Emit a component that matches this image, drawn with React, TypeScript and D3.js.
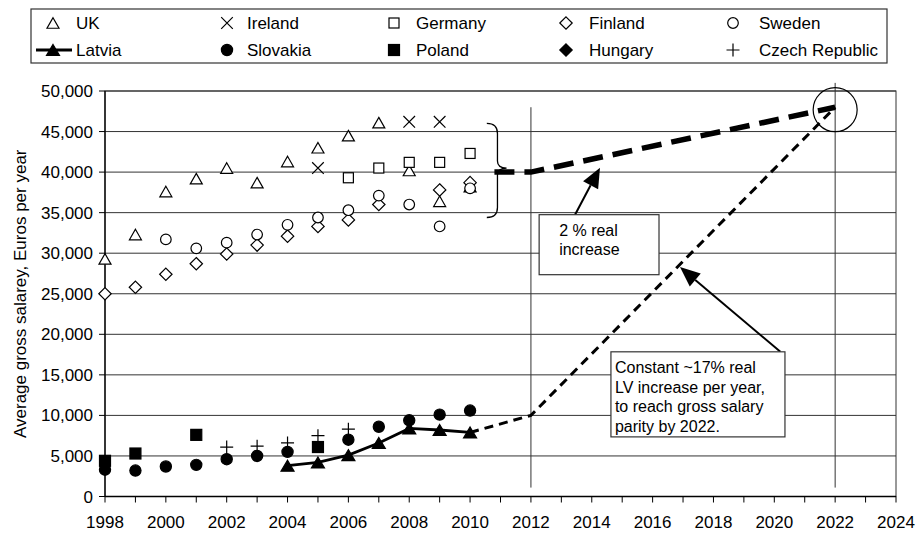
import React, { useEffect, useRef } from 'react';
import * as d3 from 'd3';

// Survey years and gross salary values (EUR per year), null = no data
const years = [1998, 1999, 2000, 2001, 2002, 2003, 2004, 2005, 2006, 2007, 2008, 2009, 2010];
const uk = [29300, 32300, 37600, 39200, 40500, 38700, 41300, 43000, 44500, 46100, 40200, 36400, 38200];
const ireland = [null, null, null, null, null, null, null, 40500, null, null, 46200, 46200, null];
const germany = [null, null, null, null, null, null, null, null, 39300, 40500, 41200, 41200, 42300];
const finland = [25000, 25800, 27400, 28700, 29900, 31000, 32100, 33300, 34100, 36000, null, 37800, 38700];
const sweden = [null, null, 31700, 30600, 31300, 32300, 33500, 34400, 35300, 37100, 36000, 33300, 38000];
const latvia = [null, null, null, null, null, null, 3800, 4200, 5100, 6600, 8400, 8200, 7900];
const slovakia = [3300, 3200, 3700, 3900, 4600, 5000, 5500, null, 7000, 8600, 9400, 10100, 10600];
const poland = [4400, 5300, null, 7600, null, null, null, 6100, null, null, null, null, null];
const hungary: (number | null)[] = [null, null, null, null, null, null, null, null, null, null, null, null, null];
const czech = [null, null, null, null, 6100, 6200, 6600, 7500, 8300, null, null, null, null];

// Projections
const latviaProjYears = [2010, 2012, 2022];
const latviaProjValues = [7900, 10000, 48000];
const trendYears = [2010.8, 2012, 2022];
const trendValues = [40000, 40000, 48000];
const markerYears = [2012, 2022];

const yTicks = [0, 5000, 10000, 15000, 20000, 25000, 30000, 35000, 40000, 45000, 50000];
const xTicks = d3.range(1998, 2025, 1);
const xLabels = [1998, 2000, 2002, 2004, 2006, 2008, 2010, 2012, 2014, 2016, 2018, 2020, 2022, 2024];

type Shape = 'tri' | 'x' | 'sq' | 'dia' | 'circ' | 'triF' | 'dot' | 'sqF' | 'diaF' | 'plus';

const series: { name: string; values: (number | null)[]; shape: Shape }[] = [
  { name: 'UK', values: uk, shape: 'tri' },
  { name: 'Ireland', values: ireland, shape: 'x' },
  { name: 'Germany', values: germany, shape: 'sq' },
  { name: 'Finland', values: finland, shape: 'dia' },
  { name: 'Sweden', values: sweden, shape: 'circ' },
  { name: 'Latvia', values: latvia, shape: 'triF' },
  { name: 'Slovakia', values: slovakia, shape: 'dot' },
  { name: 'Poland', values: poland, shape: 'sqF' },
  { name: 'Hungary', values: hungary, shape: 'diaF' },
  { name: 'Czech Republic', values: czech, shape: 'plus' },
];

const FONT = '"Liberation Sans", Arial, sans-serif';

function marker(g: d3.Selection<SVGGElement, unknown, null, undefined>, shape: Shape, cx: number, cy: number) {
  const sw = 1.2;
  switch (shape) {
    case 'tri':
    case 'triF': {
      const w = shape === 'tri' ? 12 : 13, h = shape === 'tri' ? 10.5 : 11;
      g.append('path')
        .attr('d', `M${cx},${cy - h / 2}L${cx + w / 2},${cy + h / 2}L${cx - w / 2},${cy + h / 2}Z`)
        .attr('fill', shape === 'tri' ? 'white' : 'black')
        .attr('stroke', 'black').attr('stroke-width', sw);
      break;
    }
    case 'sq':
    case 'sqF': {
      const s = shape === 'sq' ? 10 : 11;
      g.append('rect').attr('x', cx - s / 2).attr('y', cy - s / 2).attr('width', s).attr('height', s)
        .attr('fill', shape === 'sq' ? 'white' : 'black')
        .attr('stroke', 'black').attr('stroke-width', sw);
      break;
    }
    case 'dia':
    case 'diaF': {
      const r = 6.2;
      g.append('path')
        .attr('d', `M${cx},${cy - r}L${cx + r},${cy}L${cx},${cy + r}L${cx - r},${cy}Z`)
        .attr('fill', shape === 'dia' ? 'white' : 'black')
        .attr('stroke', 'black').attr('stroke-width', sw);
      break;
    }
    case 'circ':
    case 'dot':
      g.append('circle').attr('cx', cx).attr('cy', cy).attr('r', shape === 'circ' ? 5.3 : 5.6)
        .attr('fill', shape === 'circ' ? 'white' : 'black')
        .attr('stroke', 'black').attr('stroke-width', sw);
      break;
    case 'x': {
      const r = 5.8;
      g.append('path')
        .attr('d', `M${cx - r},${cy - r}L${cx + r},${cy + r}M${cx - r},${cy + r}L${cx + r},${cy - r}`)
        .attr('stroke', 'black').attr('stroke-width', sw).attr('fill', 'none');
      break;
    }
    case 'plus': {
      const r = 6.5;
      g.append('path')
        .attr('d', `M${cx - r},${cy}L${cx + r},${cy}M${cx},${cy - r}L${cx},${cy + r}`)
        .attr('stroke', 'black').attr('stroke-width', sw).attr('fill', 'none');
      break;
    }
  }
}

export default function App() {
  const svgRef = useRef<SVGSVGElement>(null);

  useEffect(() => {
    if (!svgRef.current) return;
    d3.select(svgRef.current).selectAll('*').remove();

    const width = 917;
    const height = 534;
    const left = 105, right = 896, top = 91, bottom = 496.5;

    const svg = d3.select(svgRef.current).attr('width', width).attr('height', height);
    const g = svg.append('g');

    const x = d3.scaleLinear().domain([1998, 2024]).range([left, right]);
    const y = d3.scaleLinear().domain([0, 50000]).range([bottom, top]);

    // gridlines
    g.selectAll('line.grid').data(yTicks.slice(1)).enter().append('line')
      .attr('x1', left).attr('x2', right)
      .attr('y1', d => y(d)).attr('y2', d => y(d))
      .attr('stroke', '#333').attr('stroke-width', 1);

    // plot frame
    g.append('rect').attr('x', left).attr('y', top).attr('width', right - left).attr('height', bottom - top)
      .attr('fill', 'none').attr('stroke', '#333').attr('stroke-width', 1);

    // y axis
    g.append('line').attr('x1', left).attr('x2', left).attr('y1', top).attr('y2', bottom)
      .attr('stroke', 'black').attr('stroke-width', 1.3);
    g.selectAll('line.yt').data(yTicks).enter().append('line')
      .attr('x1', left - 6).attr('x2', left).attr('y1', d => y(d)).attr('y2', d => y(d))
      .attr('stroke', 'black');
    g.selectAll('text.yl').data(yTicks).enter().append('text')
      .attr('x', left - 12).attr('y', d => y(d) + 6)
      .attr('text-anchor', 'end')
      .style('font-family', FONT).style('font-size', '17px')
      .text(d => d3.format(',')(d));

    // x axis
    g.append('line').attr('x1', left).attr('x2', right).attr('y1', bottom).attr('y2', bottom)
      .attr('stroke', 'black').attr('stroke-width', 1.3);
    g.selectAll('line.xt').data(xTicks).enter().append('line')
      .attr('x1', d => x(d)).attr('x2', d => x(d)).attr('y1', bottom).attr('y2', bottom + 6)
      .attr('stroke', 'black');
    g.selectAll('text.xl').data(xLabels).enter().append('text')
      .attr('x', d => x(d)).attr('y', bottom + 31)
      .attr('text-anchor', 'middle')
      .style('font-family', FONT).style('font-size', '17px')
      .text(d => String(d));

    // y axis title
    g.append('text')
      .attr('transform', `translate(${26}, ${(top + bottom) / 2}) rotate(-90)`)
      .attr('text-anchor', 'middle')
      .style('font-family', FONT).style('font-size', '17px')
      .text('Average gross salarey, Euros per year');

    // vertical reference lines
    g.append('line').attr('x1', x(markerYears[0])).attr('x2', x(markerYears[0]))
      .attr('y1', y(48000)).attr('y2', y(1100)).attr('stroke', '#333');
    g.append('line').attr('x1', x(markerYears[1])).attr('x2', x(markerYears[1]))
      .attr('y1', y(51000)).attr('y2', y(1100)).attr('stroke', '#333');

    const line = d3.line<[number, number]>().x(d => x(d[0])).y(d => y(d[1]));

    // projections
    g.append('path')
      .attr('d', line(trendYears.map((yr, i) => [yr, trendValues[i]])))
      .attr('fill', 'none').attr('stroke', 'black').attr('stroke-width', 5.5)
      .attr('stroke-dasharray', '20,10');
    g.append('path')
      .attr('d', line(latviaProjYears.map((yr, i) => [yr, latviaProjValues[i]])))
      .attr('fill', 'none').attr('stroke', 'black').attr('stroke-width', 3)
      .attr('stroke-dasharray', '9,6');

    // Latvia line
    const latPts = years.map((yr, i) => [yr, latvia[i]] as [number, number | null])
      .filter(d => d[1] !== null) as [number, number][];
    g.append('path').attr('d', line(latPts))
      .attr('fill', 'none').attr('stroke', 'black').attr('stroke-width', 2.8);

    // markers
    const mg = g.append('g');
    series.forEach(s => {
      s.values.forEach((v, i) => {
        if (v === null) return;
        marker(mg, s.shape, x(years[i]), y(v));
      });
    });

    // brace grouping old member states
    const bx0 = x(2010.55), bxs = x(2010.9), bxt = x(2011.2);
    const byT = y(46000), byM = y(40500), byB = y(34400);
    g.append('path')
      .attr('d', `M${bx0},${byT}Q${bxs},${byT} ${bxs},${byT + 10}L${bxs},${byM - 7}Q${bxs},${byM} ${bxt},${byM}` +
        `Q${bxs},${byM} ${bxs},${byM + 7}L${bxs},${byB - 10}Q${bxs},${byB} ${bx0},${byB}`)
      .attr('fill', 'none').attr('stroke', 'black').attr('stroke-width', 1.3);

    // parity circle
    g.append('circle').attr('cx', x(2022)).attr('cy', y(47700)).attr('r', 22)
      .attr('fill', 'none').attr('stroke', 'black').attr('stroke-width', 1.2);

    // arrows
    const arrow = (x1: number, y1: number, x2: number, y2: number) => {
      const dx = x2 - x1, dy = y2 - y1, len = Math.hypot(dx, dy);
      const ux = dx / len, uy = dy / len;
      const hl = 20, hw = 8.5;
      const bxp = x2 - ux * hl, byp = y2 - uy * hl;
      g.append('line').attr('x1', x1).attr('y1', y1).attr('x2', bxp).attr('y2', byp)
        .attr('stroke', 'black').attr('stroke-width', 2);
      g.append('path')
        .attr('d', `M${x2},${y2}L${bxp - uy * hw},${byp + ux * hw}L${bxp + uy * hw},${byp - ux * hw}Z`)
        .attr('fill', 'black');
    };
    arrow(x(2013.45), y(34750), x(2014.27), y(40550));
    arrow(x(2020.2), y(17840), x(2016.9), y(28300));

    // annotation boxes
    const box = (x0: number, x1: number, v0: number, v1: number, lines: string[], tx: number, lh: number) => {
      g.append('rect').attr('x', x(x0)).attr('y', y(v0)).attr('width', x(x1) - x(x0)).attr('height', y(v1) - y(v0))
        .attr('fill', 'white').attr('stroke', '#333').attr('stroke-width', 1.2);
      lines.forEach((t, i) => {
        g.append('text').attr('x', x(x0) + tx).attr('y', y(v0) + lh * (i + 1) + 2)
          .style('font-family', FONT).style('font-size', '16px').text(t);
      });
    };
    box(2012.27, 2016.21, 34750, 27350, ['2 % real', 'increase'], 20, 19);
    box(2014.63, 2020.35, 17840, 7350,
      ['Constant ~17% real', 'LV increase per year,', 'to reach gross salary', 'parity by 2022.'], 4, 19.5);

    // legend
    const lg = g.append('g');
    lg.append('rect').attr('x', 31).attr('y', 9).attr('width', 856).attr('height', 54)
      .attr('fill', 'white').attr('stroke', '#333').attr('stroke-width', 1.2);
    const colMarker = [53, 227, 394, 566, 733];
    const colText = [76, 247, 416, 589, 759];
    const rowY = [23, 50];
    series.forEach((s, i) => {
      const col = i % 5, row = Math.floor(i / 5);
      const cy = rowY[row];
      if (s.name === 'Latvia') {
        lg.append('line').attr('x1', 36).attr('x2', 72).attr('y1', cy).attr('y2', cy)
          .attr('stroke', 'black').attr('stroke-width', 2.8);
      }
      marker(lg, s.shape, colMarker[col], cy);
      lg.append('text').attr('x', colText[col]).attr('y', cy + 6)
        .style('font-family', FONT).style('font-size', '17px').text(s.name);
    });
  }, []);

  return (
    <div style={{ position: 'absolute', left: 0, top: 0 }}>
      <svg ref={svgRef} style={{ display: 'block', background: 'white' }}></svg>
    </div>
  );
}
